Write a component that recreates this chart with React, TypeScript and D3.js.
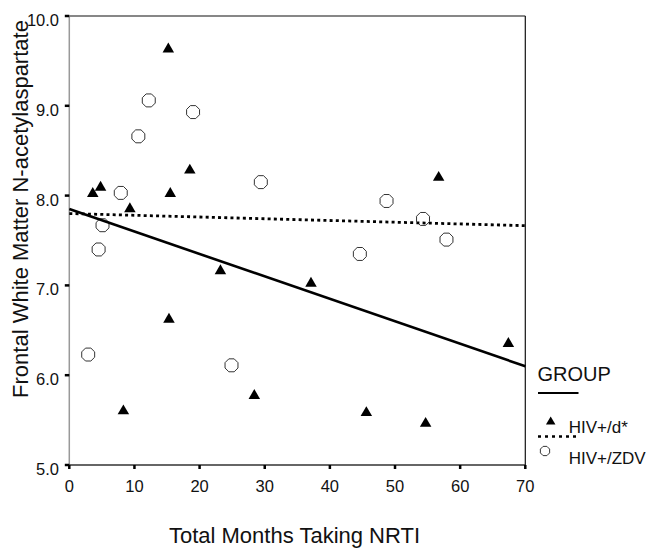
import React from "react";
import * as d3 from "d3";

const hivDX = [3.6, 4.8, 15.2, 18.5, 15.5, 9.3, 23.2, 37.1, 15.3, 8.3, 28.4, 56.7, 67.4, 45.6, 54.7];
const hivDY = [8.04, 8.11, 9.65, 8.3, 8.04, 7.87, 7.18, 7.04, 6.64, 5.62, 5.79, 8.22, 6.37, 5.6, 5.48];

const zdvX = [12.2, 19.0, 10.6, 7.9, 29.4, 5.1, 4.5, 2.9, 24.9, 48.7, 54.3, 57.9, 44.6];
const zdvY = [9.06, 8.93, 8.66, 8.03, 8.15, 7.67, 7.4, 6.23, 6.11, 7.94, 7.74, 7.51, 7.35];

const fitX = [0, 70];
const fitD = [7.85, 6.1];
const fitZDV = [7.8, 7.665];

const xTicks = [0, 10, 20, 30, 40, 50, 60, 70];
const yTicks = [5, 6, 7, 8, 9, 10];

const groupLabels = ["HIV+/d*", "HIV+/ZDV"];

const W = 648;
const H = 549;
const FONT = "'Liberation Sans', Arial, sans-serif";

function octagon(r: number): string {
  const pts: [number, number][] = d3.range(8).map((i) => {
    const a = (Math.PI / 4) * i + Math.PI / 8;
    return [r * Math.cos(a), r * Math.sin(a)];
  });
  return (d3.line()(pts) || "") + "Z";
}

function triangle(s: number): string {
  const h = s * 0.86;
  return `M0,${-h / 2}L${s / 2},${h / 2}L${-s / 2},${h / 2}Z`;
}

export default function App() {
  const x = d3.scaleLinear().domain([0, 70]).range([69.3, 525.3]);
  const y = d3.scaleLinear().domain([5, 10]).range([465, 16]);
  const line = d3
    .line<number>()
    .x((_, i) => x(fitX[i]))
    .y((d) => y(d));

  const oct = octagon(7);
  const tri = triangle(11.5);

  return (
    <svg
      width={W}
      height={H}
      style={{ position: "absolute", left: 0, top: 0, background: "#fff" }}
      fontFamily={FONT}
    >
      <rect width={W} height={H} fill="#fff" />
      {/* frame */}
      <line x1={x(0)} x2={x(70)} y1={y(10)} y2={y(10)} stroke="#111" strokeWidth={1.2} />
      <line x1={x(70)} x2={x(70)} y1={y(10)} y2={y(5)} stroke="#111" strokeWidth={1.2} />
      <line x1={x(0)} x2={x(0)} y1={y(10)} y2={y(5)} stroke="#999" strokeWidth={1.5} />
      <line x1={x(0)} x2={x(70)} y1={y(5)} y2={y(5)} stroke="#333" strokeWidth={1.3} />

      {/* y ticks */}
      {yTicks.map((t) => (
        <g key={"y" + t}>
          <line x1={x(0) - 4.5} x2={x(0)} y1={y(t)} y2={y(t)} stroke="#000" strokeWidth={2.5} />
          <text x={59} y={y(t) + 10} textAnchor="end" fontSize={16.5} fill="#111">
            {d3.format(".1f")(t)}
          </text>
        </g>
      ))}
      {/* x ticks */}
      {xTicks.map((t) => (
        <g key={"x" + t}>
          <line x1={x(t)} x2={x(t)} y1={y(5)} y2={y(5) + 4} stroke="#000" strokeWidth={2.5} />
          <text x={x(t)} y={491.5} textAnchor="middle" fontSize={16.5} fill="#111">
            {t}
          </text>
        </g>
      ))}

      {/* markers */}
      {zdvX.map((vx, i) => (
        <path
          key={"z" + i}
          d={oct}
          transform={`translate(${x(vx)},${y(zdvY[i])})`}
          fill="#fff"
          stroke="#333"
          strokeWidth={1}
        />
      ))}
      {hivDX.map((vx, i) => (
        <path key={"d" + i} d={tri} transform={`translate(${x(vx)},${y(hivDY[i])})`} fill="#000" />
      ))}

      {/* fit lines */}
      <path d={line(fitD) || ""} fill="none" stroke="#000" strokeWidth={2.6} />
      <path d={line(fitZDV) || ""} fill="none" stroke="#000" strokeWidth={2.8} strokeDasharray="3 3.2" />

      {/* axis titles */}
      <text x={294.5} y={543} textAnchor="middle" fontSize={22} fill="#111">
        Total Months Taking NRTI
      </text>
      <text
        transform={`translate(28,209) rotate(-90)`}
        textAnchor="middle"
        fontSize={22}
        fill="#111"
      >
        Frontal White Matter N-acetylaspartate
      </text>

      {/* legend */}
      <text x={537.5} y={381} fontSize={20} fill="#111">
        GROUP
      </text>
      <line x1={538} x2={578.5} y1={393} y2={393} stroke="#000" strokeWidth={2.2} />
      <path d={triangle(9.5)} transform="translate(550.7,420.5)" fill="#000" />
      <text x={568.7} y={432.5} fontSize={17} fill="#111">
        {groupLabels[0]}
      </text>
      <line x1={538} x2={579} y1={436.5} y2={436.5} stroke="#000" strokeWidth={2.6} strokeDasharray="3 4" />
      <path d={octagon(5)} transform="translate(545,451)" fill="#fff" stroke="#333" strokeWidth={1} />
      <text x={568.7} y={464} fontSize={17} fill="#111">
        {groupLabels[1]}
      </text>
    </svg>
  );
}
